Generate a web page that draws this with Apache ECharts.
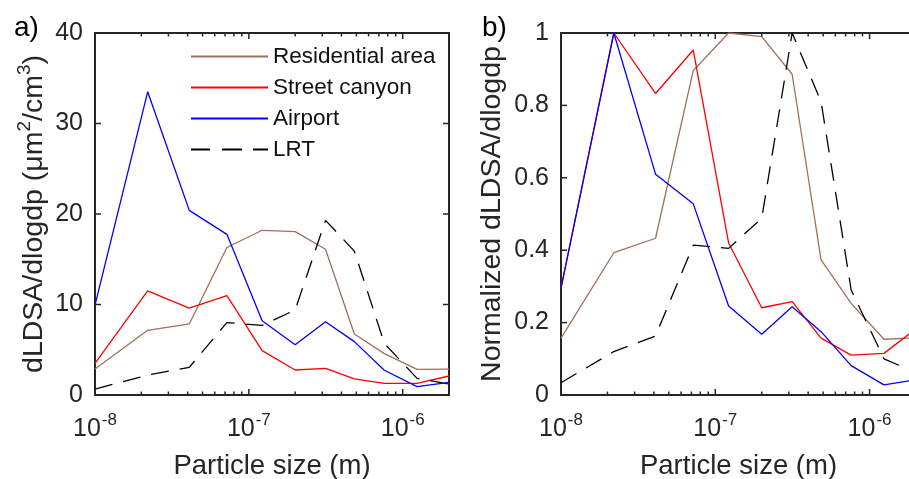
<!DOCTYPE html>
<html>
<head>
<meta charset="utf-8">
<script src="https://cdn.jsdelivr.net/npm/echarts@6/dist/echarts.min.js"></script>
<style>
html,body{margin:0;padding:0;background:#fff;}
#chart{width:909px;height:479px;}
</style>
</head>
<body>
<div id="chart"></div>
<script>
// Particle size (m)
const sizes = [1e-8, 2.2e-8, 4.1e-8, 7.2e-8, 1.22e-7, 2.0e-7, 3.15e-7, 4.85e-7, 7.6e-7, 1.24e-6, 2.0e-6];

// Panel a) dLDSA/dlogdp (um^2/cm^3)
const resA    = [2.87, 7.15, 7.85, 16.3, 18.2, 18.05, 16.1, 6.74, 4.57, 2.84, 2.87];
const streetA = [3.5, 11.5, 9.6, 10.97, 4.9, 2.76, 2.94, 1.77, 1.29, 1.29, 2.1];
const airA    = [9.94, 33.5, 20.4, 17.75, 8.2, 5.56, 8.1, 5.9, 2.73, 0.92, 1.4];
const lrtA    = [0.66, 2.2, 3.06, 8.0, 7.7, 9.4, 19.3, 15.9, 5.7, 1.84, 1.2];

// Panel b) normalized dLDSA/dlogdp
const resB    = [0.157, 0.393, 0.433, 0.896, 1.0, 0.99, 0.886, 0.373, 0.253, 0.154, 0.158];
const streetB = [0.295, 1.0, 0.833, 0.953, 0.42, 0.241, 0.258, 0.157, 0.11, 0.115, 0.183];
const airB    = [0.295, 1.0, 0.61, 0.528, 0.246, 0.168, 0.244, 0.175, 0.081, 0.028, 0.042];
const lrtB    = [0.034, 0.12, 0.163, 0.414, 0.405, 0.488, 1.0, 0.81, 0.29, 0.10, 0.062];

const seriesNames = ['Residential area', 'Street canyon', 'Airport', 'LRT'];
// Tick values
const majorXTicks = [1e-8, 1e-7, 1e-6];
const minorXTicks = [2e-8,3e-8,4e-8,5e-8,6e-8,7e-8,8e-8,9e-8,2e-7,3e-7,4e-7,5e-7,6e-7,7e-7,8e-7,9e-7];
const yTicksA = [0, 10, 20, 30, 40];
const yTicksB = [0, 0.2, 0.4, 0.6, 0.8, 1];

const colors = ['#a0705a', '#ff0000', '#0000ff', '#000000'];
const dash = [18, 11];
const axisColor = '#262626';
const FONT = 'Liberation Sans, Arial, sans-serif';

function pairs(ys) { return sizes.map((x, i) => [x, ys[i]]); }

const grids = [
  {left: 95, top: 33, width: 354, height: 362, outerBoundsMode: 'none', containLabel: false},
  {left: 561, top: 33, width: 355, height: 362, outerBoundsMode: 'none', containLabel: false}
];

const richX = {
  a: {fontSize: 25, fontFamily: FONT, color: axisColor, lineHeight: 30, verticalAlign: 'bottom'},
  b: {fontSize: 17, fontFamily: FONT, color: axisColor, lineHeight: 30, verticalAlign: 'top', padding: [0,0,0,1]}
};
function expFmt(v) {
  const e = Math.round(Math.log10(v));
  return '{a|10}{b|' + (e < 0 ? '-' : '') + Math.abs(e) + '}';
}
const xAxes = [];
[0, 1].forEach(g => {
  xAxes.push({
    type: 'log', logBase: 10, gridIndex: g, min: 1e-8, max: 2e-6, position: 'bottom',
    name: 'Particle size (m)', nameLocation: 'middle', nameGap: 57, nameMoveOverlap: false,
    nameTextStyle: {fontSize: 27.5, fontFamily: FONT, color: axisColor},
    axisLine: {show: true, onZero: false, lineStyle: {color: axisColor, width: 2}},
    axisTick: {show: false},
    axisLabel: {show: true, customValues: majorXTicks, margin: 17, formatter: expFmt, rich: richX},
    splitLine: {show: false}
  });
  xAxes.push({
    type: 'log', logBase: 10, gridIndex: g, min: 1e-8, max: 2e-6, position: 'top',
    axisLine: {show: true, onZero: false, lineStyle: {color: axisColor, width: 2}},
    axisTick: {show: false}, axisLabel: {show: false}, splitLine: {show: false}
  });
});

const yCfg = [
  {max: 40, interval: 10, fmt: v => String(v), ticks: yTicksA,
   name: '{t|dLDSA/dlogdp (μm}{s|2}{t|/cm}{s|3}{t|)}', gap: 46},
  {max: 1, interval: 0.2, fmt: v => (Math.round(v * 10) / 10).toString(), ticks: yTicksB,
   name: '{t|Normalized dLDSA/dlogdp}', gap: 54}
];
const richY = {
  t: {fontSize: 28.5, fontFamily: FONT, color: axisColor, lineHeight: 34, verticalAlign: 'bottom'},
  s: {fontSize: 19, fontFamily: FONT, color: axisColor, lineHeight: 34, verticalAlign: 'top'}
};
const yAxes = [];
[0, 1].forEach(g => {
  const c = yCfg[g];
  const base = {type: 'value', gridIndex: g, min: 0, max: c.max, interval: c.interval, splitLine: {show: false}};
  yAxes.push(Object.assign({}, base, {
    position: 'left',
    name: c.name, nameLocation: 'middle', nameGap: c.gap, nameRotate: 90, nameMoveOverlap: false,
    nameTextStyle: {rich: richY},
    axisLine: {show: true, onZero: false, lineStyle: {color: axisColor, width: 2}},
    axisTick: {show: false},
    axisLabel: {show: true, margin: 12, formatter: c.fmt, fontSize: 25, fontFamily: FONT, color: axisColor}
  }));
  yAxes.push(Object.assign({}, base, {
    position: 'right',
    axisLine: {show: true, onZero: false, lineStyle: {color: axisColor, width: 2}},
    axisTick: {show: false}, axisLabel: {show: false}
  }));
});

const dataA = [resA, streetA, airA, lrtA];
const dataB = [resB, streetB, airB, lrtB];
const series = [];
[dataA, dataB].forEach((set, g) => {
  set.forEach((ys, i) => {
    series.push({
      name: seriesNames[i], type: 'line', xAxisIndex: g * 2, yAxisIndex: g * 2,
      data: pairs(ys), symbol: 'none', showSymbol: false, silent: true, animation: false,
      lineStyle: {color: colors[i], width: 1.3, type: i === 3 ? dash : 'solid'},
      itemStyle: {color: colors[i]}, z: 3 + (i === 2 ? 1 : 0)
    });
  });
});

// Inward tick marks (top/bottom and left/right), placed through the axes' own scales
function xTickSeries(g, vals, len) {
  return {
    type: 'custom', xAxisIndex: g * 2, yAxisIndex: g * 2, silent: true, clip: false, z: 10,
    data: vals.map(v => [v, 0]),
    renderItem: (params, api) => {
      const x = api.coord([api.value(0), 0])[0];
      const cs = params.coordSys;
      const st = {stroke: axisColor, lineWidth: 1.5};
      return {type: 'group', children: [
        {type: 'line', shape: {x1: x, y1: cs.y + cs.height, x2: x, y2: cs.y + cs.height - len}, style: st},
        {type: 'line', shape: {x1: x, y1: cs.y, x2: x, y2: cs.y + len}, style: st}
      ]};
    }
  };
}
function yTickSeries(g, vals, len) {
  return {
    type: 'custom', xAxisIndex: g * 2, yAxisIndex: g * 2, silent: true, clip: false, z: 10,
    data: vals.map(v => [1e-8, v]),
    renderItem: (params, api) => {
      const y = api.coord([1e-8, api.value(1)])[1];
      const cs = params.coordSys;
      const st = {stroke: axisColor, lineWidth: 1.5};
      return {type: 'group', children: [
        {type: 'line', shape: {x1: cs.x, y1: y, x2: cs.x + len, y2: y}, style: st},
        {type: 'line', shape: {x1: cs.x + cs.width, y1: y, x2: cs.x + cs.width - len, y2: y}, style: st}
      ]};
    }
  };
}
[0, 1].forEach(g => {
  series.push(xTickSeries(g, majorXTicks, 6));
  series.push(xTickSeries(g, minorXTicks, 3.5));
  series.push(yTickSeries(g, g === 0 ? yTicksA : yTicksB, 6));
});

const solidIcon = 'path://M0,0H77V2H0Z';
const dashIcon = 'path://M0,0H19V2H0Z M31,0H51V2H31Z M62,0H77V2H62Z';

const chart = echarts.init(document.getElementById('chart'), null, {renderer: 'canvas'});
chart.setOption({
  animation: false,
  backgroundColor: '#fff',
  title: [
    {text: 'a)', left: 9, top: 9, textStyle: {fontSize: 28, fontWeight: 'normal', fontFamily: FONT, color: '#000'}},
    {text: 'b)', left: 477, top: 9, textStyle: {fontSize: 28, fontWeight: 'normal', fontFamily: FONT, color: '#000'}}
  ],
  legend: {
    data: seriesNames.map((n, i) => ({name: n, icon: i === 3 ? dashIcon : solidIcon,
      itemStyle: {color: colors[i], borderWidth: 0}})),
    orient: 'vertical', left: 191, top: 45, padding: 0, itemWidth: 77, itemHeight: 2, itemGap: 8,
    textStyle: {fontSize: 22.5, fontFamily: FONT, color: '#111', lineHeight: 23},
    selectedMode: false
  },
  grid: grids,
  xAxis: xAxes,
  yAxis: yAxes,
  series: series
});
</script>
</body>
</html>
